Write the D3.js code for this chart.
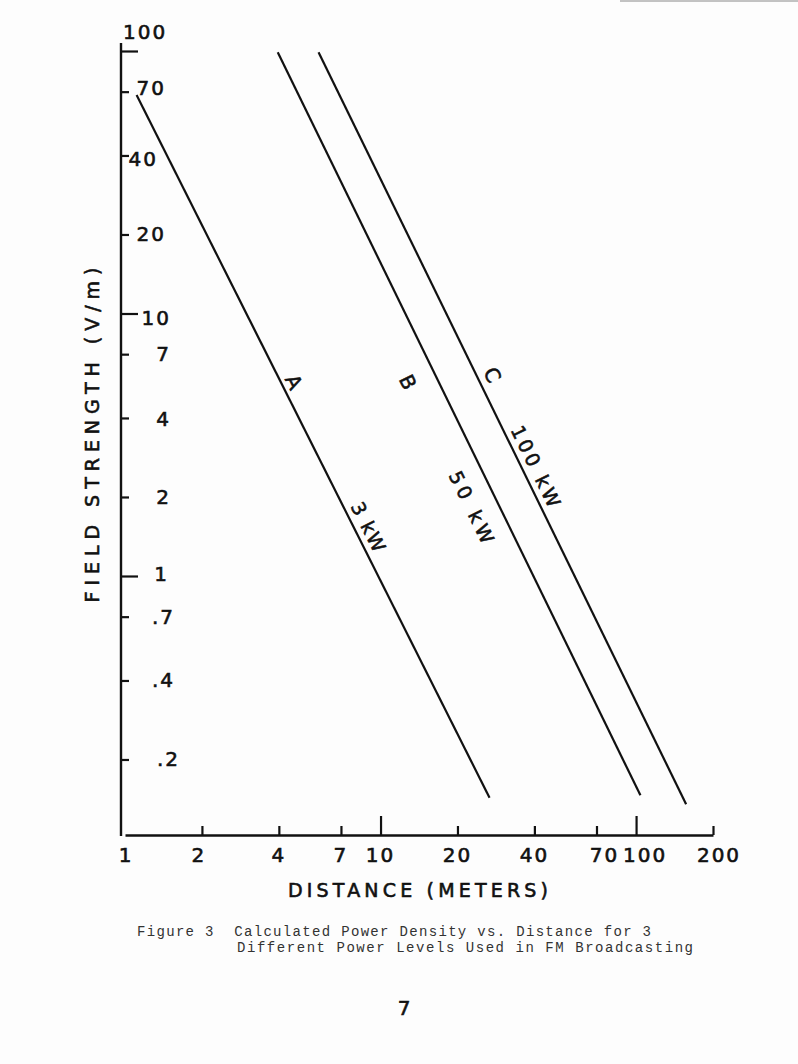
<!DOCTYPE html>
<html><head><meta charset="utf-8">
<script src="https://cdn.jsdelivr.net/npm/d3@7"></script>
<style>body{margin:0;background:#fff}svg{display:block}</style>
</head><body>
<svg id="chart" width="798" height="1064"></svg>
<script>
// ---- data ----
const distanceTicks = [1, 2, 4, 7, 10, 20, 40, 70, 100, 200];
const distanceTickLabels = ["1", "2", "4", "7", "10", "20", "40", "70", "100", "200"];
const distanceMajor = [10, 100];
const fieldTicks = [100, 70, 40, 20, 10, 7, 4, 2, 1, 0.7, 0.4, 0.2];
const fieldTickLabels = ["100", "70", "40", "20", "10", "7", "4", "2", "1", ".7", ".4", ".2"];
const fieldMajor = [100, 10, 1];
const seriesNames = ["A", "B", "C"];
const seriesPower = ["3 kW", "50 kW", "100 kW"];
const distanceA = [1.11, 26.7];
const fieldA = [68, 0.143];
const distanceB = [3.96, 104];
const fieldB = [99, 0.146];
const distanceC = [5.72, 157];
const fieldC = [99, 0.135];
const letterAtField = [5.48, 5.48, 5.83];
const powerAtField = [1.54, 1.83, 2.62];
const captionLines = ["Figure 3  Calculated Power Density vs. Distance for 3",
                      "Different Power Levels Used in FM Broadcasting"];

// ---- layout / style ----
const W = 798, H = 1064;
const axisY = 835, axisX = 121;
const letterDx = [13, -31, 16];
const powerDx = [15, -28, 15];
const powerLen = [53, 78, 88];
const xLabelDx = {"1": 1, "2": -3, "70": 8, "100": 9, "200": 6};
const yLabelEnd = {"70": 166, "40": 158, "20": 166, "1": 169, ".7": 175, ".4": 175, ".2": 180};
const yLabelDy = {"70": -4, "40": 4, "10": 4, "4": 1, "1": -2};
const sans = "'DejaVu Sans', 'Liberation Sans', sans-serif";
const ink = "#111";
const inkStroke = 0.6;

const svg = d3.select("#chart");
svg.append("rect").attr("width", W).attr("height", H).attr("fill", "#fdfdfd");

const x = d3.scaleLog().domain([1, 200]).range([125, 713]);
const y = d3.scaleLog().domain([0.1, 100]).range([838.5, 51]);

// x axis (ticks pointing up); the origin "1" carries no tick mark
const minorX = distanceTicks.filter(d => !distanceMajor.includes(d) && d !== 1);
const gx = svg.append("g").attr("transform", `translate(0,${axisY})`);
gx.call(d3.axisTop(x).tickValues(minorX).tickSize(9).tickSizeOuter(0).tickFormat(""));
gx.call(g => g.select(".domain").attr("stroke-width", 2.4).attr("stroke", ink));
const gx2 = svg.append("g").attr("transform", `translate(0,${axisY})`);
gx2.call(d3.axisTop(x).tickValues(distanceMajor).tickSize(19).tickFormat(""));
gx2.select(".domain").remove();

// y axis (ticks pointing right)
svg.append("line").attr("x1", axisX).attr("x2", axisX).attr("y1", 43).attr("y2", axisY + 1)
  .attr("stroke", ink).attr("stroke-width", 2.4);
const minorY = fieldTicks.filter(d => !fieldMajor.includes(d));
const gy = svg.append("g").attr("transform", `translate(${axisX},0)`);
gy.call(d3.axisRight(y).tickValues(minorY).tickSize(8).tickFormat(""));
gy.select(".domain").remove();
const gy2 = svg.append("g").attr("transform", `translate(${axisX},0)`);
gy2.call(d3.axisRight(y).tickValues(fieldMajor).tickSize(17).tickFormat(""));
gy2.select(".domain").remove();
svg.selectAll(".tick line").attr("stroke", ink).attr("stroke-width", 2.2);

function inked(sel) {
  return sel.attr("fill", ink).attr("stroke", ink).attr("stroke-width", inkStroke);
}

// x tick labels
inked(svg.append("g").selectAll("text").data(distanceTicks).join("text")
  .attr("x", (d, i) => x(d) + (xLabelDx[distanceTickLabels[i]] || 0))
  .attr("y", 855).attr("dominant-baseline", "central").attr("text-anchor", "middle")
  .attr("font-family", sans).attr("font-size", 20).attr("letter-spacing", 2))
  .text((d, i) => distanceTickLabels[i]);

// y tick labels
inked(svg.append("g").selectAll("text").data(fieldTicks).join("text")
  .each(function(d, i) {
    const lab = fieldTickLabels[i];
    const t = d3.select(this);
    if (i === 0) {
      t.attr("x", 123).attr("y", y(d) - 19).attr("text-anchor", "start");
    } else {
      t.attr("x", yLabelEnd[lab] || 171).attr("y", y(d) + (yLabelDy[lab] || 0)).attr("text-anchor", "end");
    }
  })
  .attr("dominant-baseline", "central")
  .attr("font-family", sans).attr("font-size", 20).attr("letter-spacing", 2))
  .text((d, i) => fieldTickLabels[i]);

// lines
const series = [
  {name: seriesNames[0], power: seriesPower[0], pts: distanceA.map((d, i) => [d, fieldA[i]])},
  {name: seriesNames[1], power: seriesPower[1], pts: distanceB.map((d, i) => [d, fieldB[i]])},
  {name: seriesNames[2], power: seriesPower[2], pts: distanceC.map((d, i) => [d, fieldC[i]])}
];
const line = d3.line().x(p => x(p[0])).y(p => y(p[1]));
svg.append("g").selectAll("path").data(series).join("path")
  .attr("d", s => line(s.pts)).attr("fill", "none").attr("stroke", ink).attr("stroke-width", 2.2);

// labels along the lines
function pointAt(s, f) {
  const [p0, p1] = s.pts;
  const yy = y(f);
  const t = (yy - y(p0[1])) / (y(p1[1]) - y(p0[1]));
  const xx = x(p0[0]) + t * (x(p1[0]) - x(p0[0]));
  const ang = Math.atan2(y(p1[1]) - y(p0[1]), x(p1[0]) - x(p0[0])) * 180 / Math.PI;
  return [xx, yy, ang];
}
series.forEach((s, i) => {
  const [lx, ly, ang] = pointAt(s, letterAtField[i]);
  inked(svg.append("text").attr("transform", `translate(${lx + letterDx[i]},${ly}) rotate(${ang})`)
    .attr("text-anchor", "middle").attr("dominant-baseline", "central")
    .attr("font-family", sans).attr("font-size", 20)).text(s.name);
  const [px, py, ang2] = pointAt(s, powerAtField[i]);
  inked(svg.append("text").attr("transform", `translate(${px + powerDx[i]},${py}) rotate(${ang2})`)
    .attr("text-anchor", "middle").attr("dominant-baseline", "central")
    .attr("font-family", sans).attr("font-size", 19)
    .attr("textLength", powerLen[i]).attr("lengthAdjust", "spacing")).text(s.power);
});

// axis titles
inked(svg.append("text").attr("x", 418).attr("y", 890).attr("text-anchor", "middle").attr("dominant-baseline", "central")
  .attr("font-family", sans).attr("font-size", 19)
  .attr("textLength", 260).attr("lengthAdjust", "spacing")).text("DISTANCE (METERS)");
inked(svg.append("text").attr("transform", "translate(92,435) rotate(-90)").attr("text-anchor", "middle")
  .attr("dominant-baseline", "central").attr("font-family", sans).attr("font-size", 19)
  .attr("textLength", 335).attr("lengthAdjust", "spacing")).text("FIELD STRENGTH (V/m)");

// caption (typewritten)
const mono = "'Liberation Mono', 'DejaVu Sans Mono', monospace";
const capX = [137, 237], capY = [936, 952], capLen = [514, 456];
captionLines.forEach((t, i) => {
  svg.append("text").attr("x", capX[i]).attr("y", capY[i]).attr("font-family", mono).attr("font-size", 14)
    .attr("fill", "#333").style("white-space", "pre")
    .attr("textLength", capLen[i]).attr("lengthAdjust", "spacing").text(t);
});

// page number
inked(svg.append("text").attr("x", 404).attr("y", 1008).attr("text-anchor", "middle").attr("dominant-baseline", "central")
  .attr("font-family", sans).attr("font-size", 20)).text("7");

// page edge at top right
svg.append("line").attr("x1", 620).attr("x2", W).attr("y1", 1).attr("y2", 1).attr("stroke", "#888").attr("stroke-width", 1);
</script>
</body></html>
